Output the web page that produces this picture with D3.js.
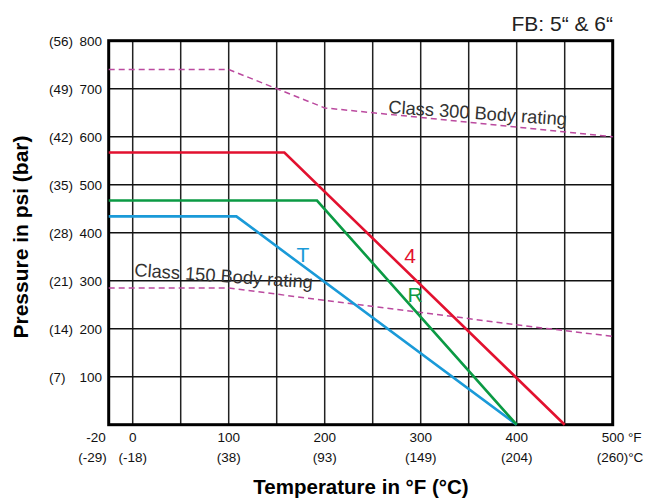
<!DOCTYPE html>
<html>
<head>
<meta charset="utf-8">
<script src="https://cdn.jsdelivr.net/npm/d3@7"></script>
<style>
  body { margin: 0; background: #fff; }
  svg { display: block; font-family: "Liberation Sans", Arial, Helvetica, sans-serif; }
</style>
</head>
<body>
<div id="chart"></div>
<script>
// tick labels
const xTicks = [-20, 0, 100, 200, 300, 400, 500];
const xTicksC = ['(-29)', '(-18)', '(38)', '(93)', '(149)', '(204)', '(260)'];
const yTicks = [100, 200, 300, 400, 500, 600, 700, 800];
const yTicksBar = ['(7)', '(14)', '(21)', '(28)', '(35)', '(42)', '(49)', '(56)'];

// seat ratings [°F, psi]
const series4 = [[-25, 567], [158, 567], [450, 0]];
const seriesR = [[-25, 467], [192, 467], [400, 0]];
const seriesT = [[-25, 434], [108, 434], [400, 0]];

// body ratings [°F, psi]
const class300 = [[-25, 740], [100, 740], [200, 660], [500, 600]];
const class150 = [[-25, 285], [100, 285], [200, 259], [300, 234], [400, 208], [500, 184]];

const width = 646, height = 499;

const x = d3.scaleLinear().domain([-25, 500]).range([108.7, 612.7]);
const y = d3.scaleLinear().domain([0, 800]).range([424.7, 40.7]);

const svg = d3.select('#chart').append('svg')
  .attr('width', width)
  .attr('height', height);

// grid
const grid = svg.append('g');
grid.selectAll('line.v')
  .data(d3.range(0, 500, 50))
  .enter().append('line')
  .attr('x1', d => x(d)).attr('x2', d => x(d))
  .attr('y1', y(0)).attr('y2', y(800))
  .attr('stroke', '#222').attr('stroke-width', 1.5);
grid.selectAll('line.h')
  .data(d3.range(100, 800, 100))
  .enter().append('line')
  .attr('x1', x(-25)).attr('x2', x(500))
  .attr('y1', d => y(d)).attr('y2', d => y(d))
  .attr('stroke', '#111').attr('stroke-width', 1.5);

// frame
svg.append('rect')
  .attr('x', x(-25)).attr('y', y(800))
  .attr('width', x(500) - x(-25)).attr('height', y(0) - y(800))
  .attr('fill', 'none').attr('stroke', '#000').attr('stroke-width', 3);

const line = d3.line().x(d => x(d[0])).y(d => y(d[1]));

// body ratings (dashed)
[class300, class150].forEach(s => {
  svg.append('path')
    .datum(s)
    .attr('d', line)
    .attr('fill', 'none')
    .attr('stroke', '#bb4a9f')
    .attr('stroke-width', 1.5)
    .attr('stroke-dasharray', '6,4');
});

// seat ratings
const seats = [
  { data: seriesT, color: '#1a9ad8' },
  { data: seriesR, color: '#0b9a44' },
  { data: series4, color: '#e2112f' },
];
seats.forEach(s => {
  svg.append('path')
    .datum(s.data)
    .attr('d', line)
    .attr('fill', 'none')
    .attr('stroke', s.color)
    .attr('stroke-width', 2.6);
});

// series labels
svg.append('text').attr('x', 303).attr('y', 262).attr('text-anchor', 'middle')
  .attr('fill', '#1a9ad8').style('font-size', '21px').text('T');
svg.append('text').attr('x', 410).attr('y', 263).attr('text-anchor', 'middle')
  .attr('fill', '#e2112f').style('font-size', '21px').text('4');
svg.append('text').attr('x', 415).attr('y', 302).attr('text-anchor', 'middle')
  .attr('fill', '#0b9a44').style('font-size', '21px').text('R');

svg.append('text').attr('x', 388).attr('y', 113)
  .attr('transform', 'rotate(4,388,113)')
  .attr('fill', '#333').style('font-size', '18.3px')
  .text('Class 300 Body rating');
svg.append('text').attr('x', 134).attr('y', 276)
  .attr('transform', 'rotate(4,134,276)')
  .attr('fill', '#333').style('font-size', '18.3px')
  .text('Class 150 Body rating');

// y tick labels
const yl = svg.append('g').style('font-size', '13.5px').attr('fill', '#111');
yl.selectAll('text.psi')
  .data(yTicks)
  .enter().append('text')
  .attr('x', 102).attr('y', d => y(d)).attr('dy', '0.36em')
  .attr('text-anchor', 'end')
  .text(d => d);
yl.selectAll('text.bar')
  .data(yTicksBar)
  .enter().append('text')
  .attr('x', 49).attr('y', (d, i) => y(yTicks[i])).attr('dy', '0.36em')
  .text(d => d);

// x tick labels
const xl = svg.append('g').style('font-size', '13.5px').attr('fill', '#111');
xTicks.forEach((t, i) => {
  const last = i === xTicks.length - 1;
  const first = i === 0;
  xl.append('text')
    .attr('x', first ? x(-25) - 3 : last ? x(t) - 11 : x(t))
    .attr('y', 441.5)
    .attr('text-anchor', first ? 'end' : last ? 'start' : 'middle')
    .text(last ? t + ' °F' : t);
  xl.append('text')
    .attr('x', first ? x(-25) - 2 : last ? x(t) - 16 : x(t))
    .attr('y', 462)
    .attr('text-anchor', first ? 'end' : last ? 'start' : 'middle')
    .text(last ? xTicksC[i] + '°C' : xTicksC[i]);
});

// axis titles
svg.append('text')
  .attr('x', 361).attr('y', 494)
  .attr('text-anchor', 'middle')
  .style('font-size', '20.5px').style('font-weight', 'bold')
  .text('Temperature in °F (°C)');
svg.append('text')
  .attr('transform', 'translate(28,237) rotate(-90)')
  .attr('text-anchor', 'middle')
  .style('font-size', '21px').style('font-weight', 'bold')
  .text('Pressure in psi (bar)');

// title
svg.append('text')
  .attr('x', 613).attr('y', 31)
  .attr('text-anchor', 'end')
  .attr('fill', '#222')
  .style('font-size', '21px')
  .text('FB: 5“ & 6“');
</script>
</body>
</html>
